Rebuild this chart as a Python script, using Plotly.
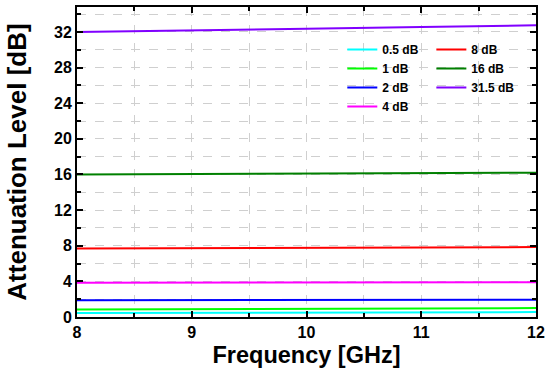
import plotly.graph_objects as go

freq = [8, 9, 10, 11, 12]
att_0p5 = [0.45, 0.47, 0.50, 0.52, 0.55]
att_1 = [0.83, 0.87, 0.91, 0.95, 1.0]
att_2 = [1.87, 1.88, 1.90, 1.92, 1.95]
att_4 = [3.85, 3.85, 3.87, 3.88, 3.90]
att_8 = [7.70, 7.72, 7.75, 7.80, 7.85]
att_16 = [16.0, 16.05, 16.1, 16.15, 16.2]
att_31p5 = [32.0, 32.15, 32.35, 32.55, 32.75]

series = [
    ("0.5 dB", att_0p5, "#00FFFF", "legend"),
    ("1 dB", att_1, "#00FF00", "legend"),
    ("2 dB", att_2, "#0000FF", "legend"),
    ("4 dB", att_4, "#FF00FF", "legend"),
    ("8 dB", att_8, "#FF0000", "legend2"),
    ("16 dB", att_16, "#008000", "legend2"),
    ("31.5 dB", att_31p5, "#8000FF", "legend2"),
]

fig = go.Figure()
for name, vals, col, lg in series:
    fig.add_trace(go.Scatter(x=freq, y=vals, mode="lines", name=name,
                             line=dict(color=col, width=2), legend=lg))

font_family = "Liberation Sans, Arial, sans-serif"
axis_common = dict(
    showline=True, linecolor="black", linewidth=2, mirror="ticks",
    ticks="inside", ticklen=6, tickwidth=1.5, tickcolor="black",
    showgrid=True, gridcolor="#cfcfcf", griddash="dash", gridwidth=1,
    zeroline=False, automargin=True,
    tickfont=dict(family=font_family, size=16, color="black", weight="bold"),
)
fig.update_layout(
    width=550, height=376,
    margin=dict(l=77, r=13, t=5, b=59),
    paper_bgcolor="white", plot_bgcolor="white",
    font=dict(family=font_family, color="black"),
    xaxis=dict(range=[8, 12], tickvals=[8, 9, 10, 11, 12],
               minor=dict(dtick=0.5, ticks="inside", ticklen=4, tickcolor="black",
                          showgrid=True, gridcolor="#cfcfcf", griddash="dash"),
               title=dict(text="Frequency [GHz]", standoff=6,
                          font=dict(family=font_family, size=23.5, weight="bold")),
               **axis_common),
    yaxis=dict(range=[0, 34.8], tickvals=[0, 4, 8, 12, 16, 20, 24, 28, 32],
               minor=dict(dtick=2, ticks="inside", ticklen=4, tickcolor="black",
                          showgrid=True, gridcolor="#cfcfcf", griddash="dash"),
               title=dict(text="Attenuation Level [dB]", standoff=20,
                          font=dict(family=font_family, size=26, weight="bold")),
               **axis_common),
    legend=dict(x=0.578, y=0.91, xanchor="left", yanchor="top",
                bgcolor="rgba(0,0,0,0)", tracegroupgap=0,
                font=dict(family=font_family, size=12, weight="bold")),
    legend2=dict(x=0.772, y=0.91, xanchor="left", yanchor="top",
                 bgcolor="rgba(0,0,0,0)", tracegroupgap=0,
                 font=dict(family=font_family, size=12, weight="bold")),
)
fig.write_html("out.html", config={"displayModeBar": False},
               post_script="document.body.style.margin='0px';")
